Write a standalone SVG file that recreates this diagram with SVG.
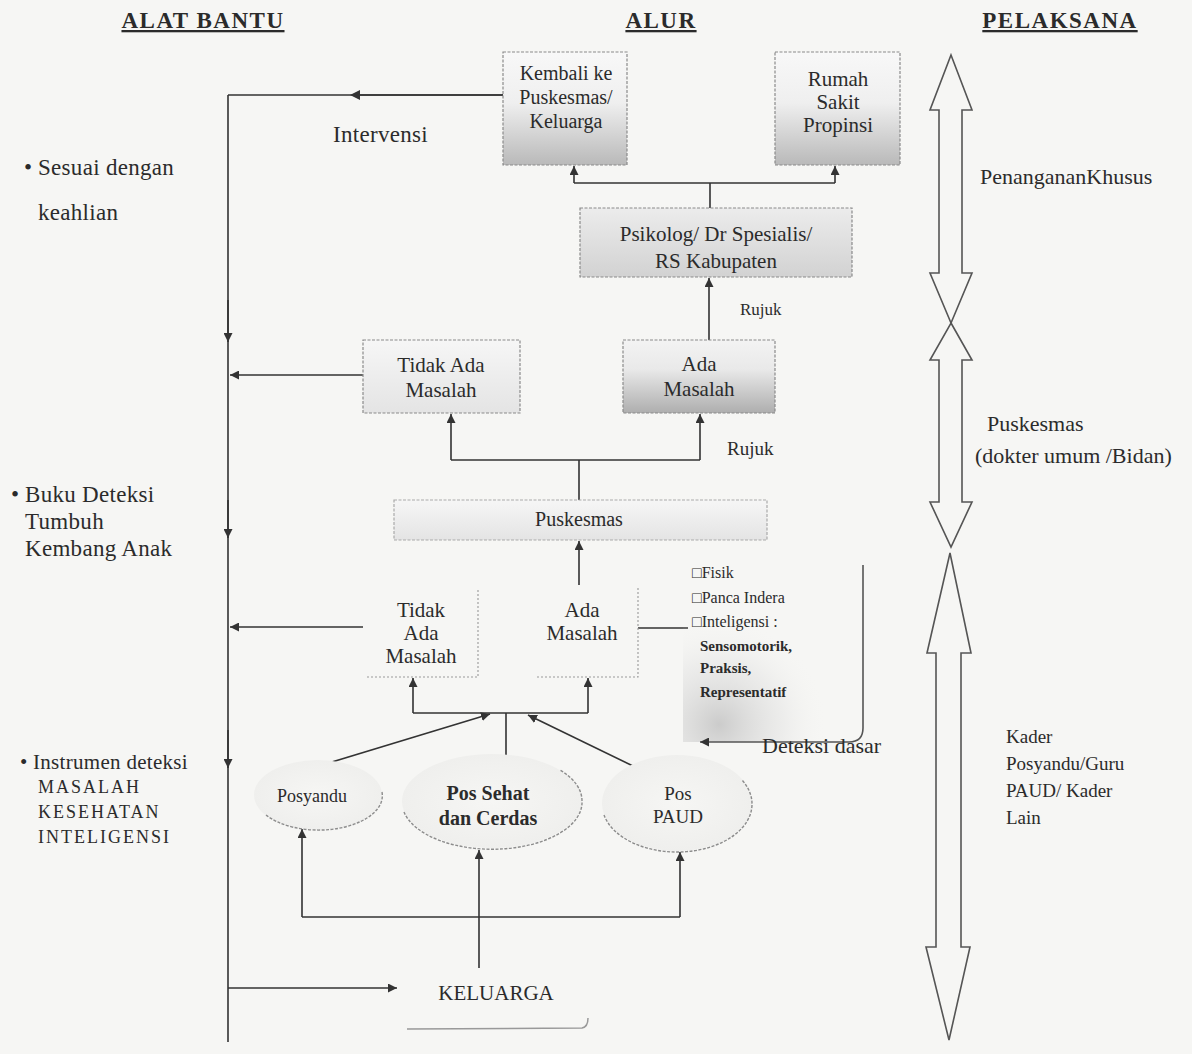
<svg xmlns="http://www.w3.org/2000/svg" width="1192" height="1054" viewBox="0 0 1192 1054">
<defs>
<style>
text{font-family:"Liberation Serif","Times New Roman",serif;fill:#2b2b2b}
.hdr{font-size:23px;font-weight:bold;letter-spacing:1.5px;text-decoration:underline}
.lt{font-size:23px;letter-spacing:0.3px}
.bx{font-size:21px;text-anchor:middle}
.sm{font-size:16px}
.rt{font-size:22px}
.ln{stroke:#333;stroke-width:1.6;fill:none}
.box{stroke:#8a8a8a;stroke-width:1.2;stroke-dasharray:3 1.5}
.big{fill:none;stroke:#555;stroke-width:1.6}
.arc{fill:none;stroke:#8c8c8c;stroke-width:1.4;stroke-dasharray:3 1.5}
</style>
<linearGradient id="gA" x1="0" y1="0" x2="0" y2="1">
<stop offset="0" stop-color="#f8f8f8"/><stop offset="0.45" stop-color="#efefef"/><stop offset="1" stop-color="#b9b9b9"/>
</linearGradient>
<linearGradient id="gB" x1="0" y1="0" x2="0" y2="1">
<stop offset="0" stop-color="#ececec"/><stop offset="1" stop-color="#d2d2d2"/>
</linearGradient>
<linearGradient id="gC" x1="0" y1="0" x2="0" y2="1">
<stop offset="0" stop-color="#f6f6f6"/><stop offset="1" stop-color="#e4e4e4"/>
</linearGradient>
<linearGradient id="gD" x1="0" y1="0" x2="0" y2="1">
<stop offset="0" stop-color="#f3f3f3"/><stop offset="0.4" stop-color="#e9e9e9"/><stop offset="1" stop-color="#aeaeae"/>
</linearGradient>
<radialGradient id="gE" cx="0.2" cy="0.9" r="0.6">
<stop offset="0" stop-color="#bdbdbd" stop-opacity="0.75"/><stop offset="0.6" stop-color="#dcdcdc" stop-opacity="0.35"/><stop offset="1" stop-color="#f6f6f4" stop-opacity="0"/>
</radialGradient>
<radialGradient id="gF" cx="0.5" cy="0.5" r="0.5">
<stop offset="0" stop-color="#f6f6f4"/><stop offset="1" stop-color="#efefed"/>
</radialGradient>
<marker id="ah" viewBox="0 0 10 10" refX="10" refY="5" markerWidth="9" markerHeight="9" markerUnits="userSpaceOnUse" orient="auto">
<path d="M0,0 L10,5 L0,10 Z" fill="#333"/>
</marker>
<marker id="am" viewBox="0 0 10 10" refX="5" refY="5" markerWidth="10" markerHeight="10" markerUnits="userSpaceOnUse" orient="auto">
<path d="M0,0 L10,5 L0,10 Z" fill="#333"/>
</marker>
</defs>
<rect x="0" y="0" width="1192" height="1054" fill="#f6f6f4"/>

<g id="headers">
<text class="hdr" x="203" y="28" text-anchor="middle">ALAT BANTU</text>
<text class="hdr" x="661" y="28" text-anchor="middle">ALUR</text>
<text class="hdr" x="1060" y="28" text-anchor="middle">PELAKSANA</text>
</g>

<g id="alat-bantu">
<text class="lt" x="24" y="175">•</text>
<text class="lt" x="38" y="175">Sesuai dengan</text>
<text class="lt" x="38" y="220">keahlian</text>
<text class="lt" x="11" y="502">•</text>
<text class="lt" x="25" y="502">Buku Deteksi</text>
<text class="lt" x="25" y="529">Tumbuh</text>
<text class="lt" x="25" y="556">Kembang Anak</text>
<text class="lt" x="20" y="769" style="font-size:21px">•</text>
<text class="lt" x="33" y="769" style="font-size:21px">Instrumen deteksi</text>
<text x="38" y="793" style="font-size:18px;letter-spacing:2px">MASALAH</text>
<text x="38" y="818" style="font-size:18px;letter-spacing:2px">KESEHATAN</text>
<text x="38" y="843" style="font-size:18px;letter-spacing:2px">INTELIGENSI</text>
</g>

<g id="connectors">
<line class="ln" x1="228" y1="95" x2="228" y2="1042"/>
<path class="ln" d="M506,95 L228,95"/>
<path class="ln" d="M506,95 L355,95" marker-end="url(#am)"/>
<path class="ln" d="M228,300 L228,342" marker-end="url(#ah)"/>
<path class="ln" d="M228,500 L228,538" marker-end="url(#ah)"/>
<path class="ln" d="M228,730 L228,768" marker-end="url(#ah)"/>
<path class="ln" d="M363,375 L230,375" marker-end="url(#ah)"/>
<path class="ln" d="M363,627 L230,627" marker-end="url(#ah)"/>
<path class="ln" d="M228,988 L397,988" marker-end="url(#ah)"/>
<path class="ln" d="M710,208 L710,183"/>
<path class="ln" d="M574,183 L835,183"/>
<path class="ln" d="M574,183 L574,166" marker-end="url(#ah)"/>
<path class="ln" d="M835,183 L835,166" marker-end="url(#ah)"/>
<path class="ln" d="M709,340 L709,278" marker-end="url(#ah)"/>
<path class="ln" d="M579,500 L579,460"/>
<path class="ln" d="M451,460 L700,460"/>
<path class="ln" d="M451,460 L451,414" marker-end="url(#ah)"/>
<path class="ln" d="M700,460 L700,414" marker-end="url(#ah)"/>
<path class="ln" d="M579,585 L579,541" marker-end="url(#ah)"/>
<path class="ln" d="M413,713 L588,713"/>
<path class="ln" d="M413,713 L413,678" marker-end="url(#ah)"/>
<path class="ln" d="M588,713 L588,678" marker-end="url(#ah)"/>
<path class="ln" d="M506,713 L506,758"/>
<path class="ln" d="M322,765 L490,714" marker-end="url(#ah)"/>
<path class="ln" d="M633,766 L528,715" marker-end="url(#ah)"/>
<path class="ln" d="M638,628 L688,628"/>
<path class="ln" d="M302,917 L680,917"/>
<path class="ln" d="M302,917 L302,829" marker-end="url(#ah)"/>
<path class="ln" d="M680,917 L680,852" marker-end="url(#ah)"/>
<path class="ln" d="M479,968 L479,850" marker-end="url(#ah)"/>
</g>

<g id="kembali">
<rect class="box" x="503" y="52" width="124" height="113" fill="url(#gA)"/>
<text class="bx" x="566" y="80" style="font-size:20px">Kembali ke</text>
<text class="bx" x="566" y="104" style="font-size:20px">Puskesmas/</text>
<text class="bx" x="566" y="128" style="font-size:20px">Keluarga</text>
</g>
<g id="rumah-sakit">
<rect class="box" x="775" y="52" width="125" height="113" fill="url(#gA)"/>
<text class="bx" x="838" y="86">Rumah</text>
<text class="bx" x="838" y="109">Sakit</text>
<text class="bx" x="838" y="132">Propinsi</text>
</g>
<text class="lt" x="333" y="142" id="intervensi">Intervensi</text>
<g id="psikolog">
<rect class="box" x="580" y="208" width="272" height="69" fill="url(#gB)"/>
<text class="bx" x="716" y="241">Psikolog/ Dr Spesialis/</text>
<text class="bx" x="716" y="268">RS Kabupaten</text>
</g>
<text x="740" y="315" style="font-size:17px">Rujuk</text>
<g id="tidak-ada-1">
<rect class="box" x="363" y="340" width="157" height="73" fill="url(#gC)"/>
<text class="bx" x="441" y="372">Tidak Ada</text>
<text class="bx" x="441" y="397">Masalah</text>
</g>
<g id="ada-1">
<rect class="box" x="623" y="340" width="152" height="73" fill="url(#gD)"/>
<text class="bx" x="699" y="371">Ada</text>
<text class="bx" x="699" y="396">Masalah</text>
</g>
<text x="727" y="455" style="font-size:19px">Rujuk</text>
<g id="puskesmas">
<rect class="box" x="394" y="500" width="373" height="40" fill="url(#gC)" style="stroke:#aaa"/>
<text class="bx" x="579" y="526" style="font-size:20px">Puskesmas</text>
</g>
<g id="tidak-ada-2">
<path d="M478,590 L478,677 L366,677" fill="none" stroke="#999" stroke-width="1.1" stroke-dasharray="2 2"/>
<text class="bx" x="421" y="617">Tidak</text>
<text class="bx" x="421" y="640">Ada</text>
<text class="bx" x="421" y="663">Masalah</text>
</g>
<g id="ada-2">
<path d="M638,588 L638,677 L535,677" fill="none" stroke="#999" stroke-width="1.1" stroke-dasharray="2 2"/>
<text class="bx" x="582" y="617">Ada</text>
<text class="bx" x="582" y="640">Masalah</text>
</g>
<g id="deteksi-dasar">
<path d="M683,565 L863,565 L863,728 Q863,742 849,742 L683,742 Z" fill="url(#gE)" stroke="none"/>
<path d="M863,565 L863,728 Q863,742 849,742 L700,742" fill="none" stroke="#555" stroke-width="1.6" marker-end="url(#ah)"/>
<text class="sm" x="692" y="578">□Fisik</text>
<text class="sm" x="692" y="603">□Panca Indera</text>
<text class="sm" x="692" y="627">□Inteligensi :</text>
<text class="sm" x="700" y="651" style="font-weight:bold;font-size:15px">Sensomotorik,</text>
<text class="sm" x="700" y="673" style="font-weight:bold;font-size:15px">Praksis,</text>
<text class="sm" x="700" y="697" style="font-weight:bold;font-size:15px">Representatif</text>
<text x="762" y="753" style="font-size:22px">Deteksi dasar</text>
</g>
<g id="posyandu">
<ellipse cx="318" cy="795" rx="64" ry="35" fill="url(#gF)"/>
<path class="arc" d="M266,815 A64,35 0 0 0 380,805 A64,35 0 0 0 382,792"/>
<text class="bx" x="312" y="802" style="font-size:18px">Posyandu</text>
</g>
<g id="pos-sehat">
<ellipse cx="492" cy="801" rx="90" ry="47" fill="url(#gF)"/>
<path class="arc" d="M404,812 A90,47 0 0 0 582,801 A90,47 0 0 0 560,770"/>
<text class="bx" x="488" y="800" style="font-size:20px;font-weight:bold">Pos Sehat</text>
<text class="bx" x="488" y="825" style="font-size:20px;font-weight:bold">dan Cerdas</text>
</g>
<g id="pos-paud">
<ellipse cx="677" cy="803" rx="75" ry="48" fill="url(#gF)"/>
<path class="arc" d="M604,815 A75,48 0 0 0 752,803 A75,48 0 0 0 742,780"/>
<text class="bx" x="678" y="800" style="font-size:19px">Pos</text>
<text class="bx" x="678" y="823" style="font-size:19px">PAUD</text>
</g>
<g id="keluarga">
<text class="bx" x="496" y="1000">KELUARGA</text>
<path d="M407,1029 L582,1028 Q588,1027 588,1018" fill="none" stroke="#999" stroke-width="1.5"/>
</g>

<g id="pelaksana">
<path class="big" d="M951,55 L972,110 L962,110 L962,273 L972,273 L951,323 L930,273 L939,273 L939,110 L930,110 Z"/>
<path class="big" d="M951,323 L972,360 L962,360 L962,502 L972,502 L951,547 L930,502 L939,502 L939,360 L930,360 Z"/>
<path class="big" d="M950,553 L971,653 L961,653 L961,947 L970,947 L949,1040 L926,947 L936,947 L936,653 L927,653 Z"/>
<text class="rt" x="980" y="184">PenangananKhusus</text>
<text class="rt" x="987" y="431">Puskesmas</text>
<text class="rt" x="975" y="463">(dokter umum /Bidan)</text>
<text x="1006" y="743" style="font-size:19px">Kader</text>
<text x="1006" y="770" style="font-size:19px">Posyandu/Guru</text>
<text x="1006" y="797" style="font-size:19px">PAUD/ Kader</text>
<text x="1006" y="824" style="font-size:19px">Lain</text>
</g>
</svg>
